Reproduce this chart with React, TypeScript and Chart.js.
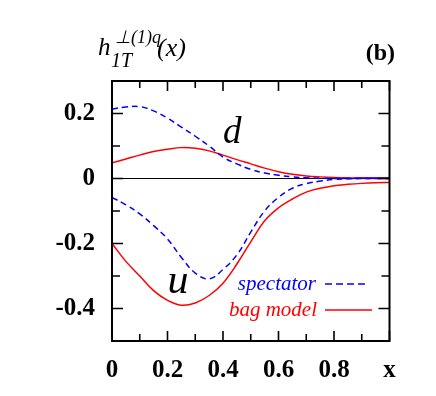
import React, { useEffect, useRef } from "react";
import { Chart, registerables } from "chart.js";

Chart.register(...registerables);

// x grid of the curves
const xs = [0, 0.05, 0.1, 0.15, 0.2, 0.25, 0.3, 0.35, 0.4, 0.45, 0.5, 0.55, 0.6, 0.65, 0.7, 0.75, 0.8, 0.85, 0.9, 0.95, 1.0];

// spectator model (blue dashed)
const dSpectator = [0.214, 0.22, 0.221, 0.208, 0.186, 0.158, 0.13, 0.1, 0.066, 0.045, 0.028, 0.017, 0.01, 0.005, 0.002, 0.001, 0, 0, 0, 0, 0];
const uSpectator = [-0.058, -0.081, -0.109, -0.145, -0.186, -0.243, -0.291, -0.309, -0.28, -0.235, -0.165, -0.1, -0.058, -0.03, -0.016, -0.008, -0.003, -0.001, 0, 0, 0];

// bag model (red solid)
const dBag = [0.048, 0.06, 0.072, 0.083, 0.09, 0.095, 0.093, 0.085, 0.072, 0.058, 0.045, 0.032, 0.021, 0.013, 0.008, 0.005, 0.003, 0.002, 0.002, 0.002, 0.002];
const uBag = [-0.2, -0.255, -0.3, -0.345, -0.375, -0.39, -0.383, -0.36, -0.322, -0.263, -0.195, -0.13, -0.09, -0.063, -0.042, -0.03, -0.022, -0.018, -0.015, -0.013, -0.012];

// axis ranges and tick labels
const xMin = 0, xMax = 1, xStep = 0.1;
const yMin = -0.5, yMax = 0.3, yStep = 0.1;
const xTickLabels: Record<number, string> = { 0: "0", 2: "0.2", 4: "0.4", 6: "0.6", 8: "0.8", 10: "x" };
const yTickLabels: Record<number, string> = { 2: "0.2", 0: "0", [-2]: "-0.2", [-4]: "-0.4" };

const BLUE = "#0000ff";
const RED = "#ff0000";
const SERIF = '"Liberation Serif", "Times New Roman", serif';

const pts = (ys: number[]) => xs.map((x, i) => ({ x, y: ys[i] }));

const decorPlugin = {
  id: "decor",
  beforeDatasetsDraw(chart: any) {
    const { ctx, chartArea, scales } = chart;
    const y0 = scales.y.getPixelForValue(0);
    ctx.save();
    ctx.strokeStyle = "#000";
    ctx.lineWidth = 1;
    ctx.beginPath();
    ctx.moveTo(chartArea.left, y0);
    ctx.lineTo(chartArea.right, y0);
    ctx.stroke();
    ctx.restore();
  },
  afterDraw(chart: any) {
    const { ctx, chartArea, scales } = chart;
    const { left, right, top, bottom } = chartArea;
    ctx.save();
    ctx.strokeStyle = "#000";
    ctx.lineWidth = 1.6;
    // ticks on x axis (bottom and top), inward
    for (let i = 0; i <= 10; i++) {
      const px = scales.x.getPixelForValue(i / 10);
      const len = i % 2 === 0 ? 10 : 7;
      ctx.beginPath();
      ctx.moveTo(px, bottom);
      ctx.lineTo(px, bottom - len);
      ctx.moveTo(px, top);
      ctx.lineTo(px, top + len);
      ctx.stroke();
    }
    // ticks on y axis (left and right), inward
    for (let k = -5; k <= 3; k++) {
      const py = scales.y.getPixelForValue(k / 10);
      const len = k % 2 === 0 ? 11 : 8;
      ctx.beginPath();
      ctx.moveTo(left, py);
      ctx.lineTo(left + len, py);
      ctx.moveTo(right, py);
      ctx.lineTo(right - len, py);
      ctx.stroke();
    }
    // frame
    ctx.lineWidth = 2;
    ctx.strokeRect(left, top, right - left, bottom - top);

    // curve labels (placed in data coordinates)
    ctx.fillStyle = "#000";
    ctx.textBaseline = "alphabetic";
    ctx.textAlign = "left";
    ctx.font = `italic 37px ${SERIF}`;
    ctx.fillText("d", scales.x.getPixelForValue(0.4), scales.y.getPixelForValue(0.108));
    ctx.font = `italic 42px ${SERIF}`;
    ctx.fillText("u", scales.x.getPixelForValue(0.2), scales.y.getPixelForValue(-0.353));

    // legend
    ctx.font = `italic 21px ${SERIF}`;
    ctx.textAlign = "right";
    ctx.fillStyle = BLUE;
    ctx.fillText("spectator", 316, 290);
    ctx.fillStyle = RED;
    ctx.fillText("bag model", 317, 316);
    ctx.lineWidth = 1.5;
    ctx.strokeStyle = BLUE;
    ctx.setLineDash([7, 4]);
    ctx.beginPath();
    ctx.moveTo(325, 284);
    ctx.lineTo(369, 284);
    ctx.stroke();
    ctx.setLineDash([]);
    ctx.strokeStyle = RED;
    ctx.beginPath();
    ctx.moveTo(325, 310);
    ctx.lineTo(372, 310);
    ctx.stroke();

    // title
    ctx.fillStyle = "#000";
    ctx.textAlign = "left";
    ctx.font = `italic 25px ${SERIF}`;
    ctx.fillText("h", 98, 55);
    ctx.font = `italic 18px ${SERIF}`;
    ctx.fillText("\u22A5(1)q", 115, 43);
    ctx.font = `italic 20px ${SERIF}`;
    ctx.fillText("1T", 111, 67);
    ctx.font = `italic 26px ${SERIF}`;
    ctx.fillText("(x)", 157, 56);

    // panel tag
    ctx.font = `bold 24px ${SERIF}`;
    ctx.textAlign = "right";
    ctx.fillText("(b)", 395, 60);
    ctx.restore();
  },
};

export default function App() {
  const ref = useRef<HTMLCanvasElement>(null);
  useEffect(() => {
    if (!ref.current) return;
    const line = (label: string, ys: number[], color: string, dashed: boolean) => ({
      label,
      data: pts(ys),
      borderColor: color,
      backgroundColor: color,
      borderWidth: 1.5,
      borderDash: dashed ? [6, 4] : [],
      pointRadius: 0,
      fill: false,
      tension: 0.4,
    });
    const tickFont = { family: SERIF, size: 25, weight: "bold" as const };
    const chart = new Chart(ref.current, {
      type: "line",
      data: {
        datasets: [
          line("d spectator", dSpectator, BLUE, true),
          line("u spectator", uSpectator, BLUE, true),
          line("d bag model", dBag, RED, false),
          line("u bag model", uBag, RED, false),
        ],
      },
      options: {
        responsive: false,
        animation: false,
        layout: { padding: { left: 0, top: 81, right: 46.5, bottom: 0 } },
        plugins: { legend: { display: false }, tooltip: { enabled: false } },
        scales: {
          x: {
            type: "linear",
            min: xMin,
            max: xMax,
            grid: { display: false, drawTicks: false },
            border: { display: false },
            ticks: {
              stepSize: xStep,
              autoSkip: false,
              maxRotation: 0,
              padding: 15,
              color: "#000",
              font: tickFont,
              callback: (v: any) => xTickLabels[Math.round(Number(v) * 10)] ?? "",
            },
            afterFit: (s: any) => { s.height = 55; },
          },
          y: {
            type: "linear",
            min: yMin,
            max: yMax,
            grid: { display: false, drawTicks: false },
            border: { display: false },
            ticks: {
              stepSize: yStep,
              autoSkip: false,
              padding: 17,
              color: "#000",
              font: tickFont,
              callback: (v: any) => yTickLabels[Math.round(Number(v) * 10)] ?? "",
            },
            afterFit: (s: any) => { s.width = 112; },
          },
        },
      },
      plugins: [decorPlugin],
    });
    return () => chart.destroy();
  }, []);
  return (
    <div style={{ position: "absolute", left: 0, top: 0, width: 436, height: 396, background: "#fff" }}>
      <canvas ref={ref} width={436} height={396} style={{ display: "block" }} />
    </div>
  );
}
